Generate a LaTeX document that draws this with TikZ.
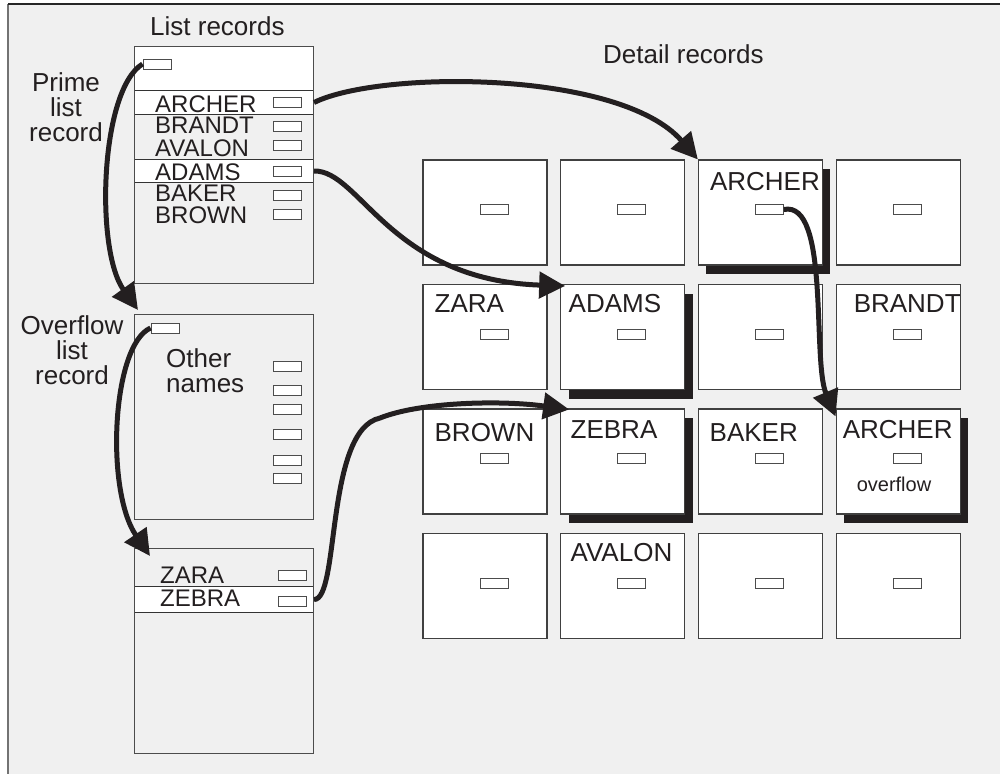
\documentclass[tikz,border=0pt]{standalone}
\usepackage{fontspec}
\setmainfont{Liberation Sans}
\usetikzlibrary{arrows.meta,
                shadows
                }
\definecolor{paper}{HTML}{F0F0F0}
\definecolor{ink}{HTML}{231F20}

\begin{document}
\begin{tikzpicture}[
    x=1pt, y=-1pt,
  lbl/.style = {font=\fontsize{26}{25}\selectfont, text=ink, inner sep=0pt},
 dlbl/.style = {lbl, anchor=base west},
  row/.style = {font=\fontsize{24}{24}\selectfont, text=ink, inner sep=0pt, anchor=base west},
  lst/.style = {draw=black!70, line width=1.3pt, minimum width=179pt, inner sep=0pt, anchor=north west},
 band/.style = {draw=black!80, fill=white, line width=1pt, minimum width=179pt, inner sep=0pt, anchor=north west},
  ptr/.style = {draw=black!70, fill=white, line width=0.9pt, minimum width=28pt, minimum height=10pt, inner sep=0pt},
  rec/.style = {draw=black!75, fill=white, line width=1.1pt, minimum width=124pt, minimum height=105pt, inner sep=0pt},
  hit/.style = {drop shadow={shadow xshift=8pt, shadow yshift=-9pt, fill=ink, opacity=1}},
 link/.style = {draw=ink, line width=5pt, -{Triangle[length=26pt,width=26pt]}},
 box02/.style = {hit}, box11/.style = {hit}, box21/.style = {hit}, box23/.style = {hit}
                    ]
\useasboundingbox (0,0) rectangle (1000,774);
\fill[paper] (8,4) rectangle (1000,774);
\draw[black!55, line width=2pt] (8,4) -- (8,774);
\draw[black!85, line width=1.5pt] (8,4) -- (1000,4);

% prime list record
\node (head) [band, draw=none, minimum height=44pt] at (134,46) {};
\node (bArcher) [band, minimum height=24pt] at (134,90) {};
\node (bAdams) [band, minimum height=23pt] at (134,159) {};
\node (prime) [lst, minimum height=237pt] at (134,46) {};
\node (tList) [lbl, anchor=base west] at (150,35) {List records};
\node (pPrime) [ptr] at (157,64) {};
\foreach \nm/\bl/\py in {ARCHER/112/102, BRANDT/133/126, AVALON/156/145,
                         ADAMS/180/171, BAKER/201/195.5, BROWN/223/214}
  {
\node (t\nm) [row] at (155,\bl) {\nm};
\node (p\nm) [ptr] at (287,\py) {};
  }
\node (lPrime) [lbl, align=center, anchor=north] at (66,72) {Prime\\list\\record};

% overflow list records
\node (over) [lst, minimum height=205pt] at (134,314) {};
\node (pOver) [ptr] at (165,328) {};
\node (lOver) [lbl, align=center, anchor=north] at (72,315) {Overflow\\list\\record};
\node (tOther) [lbl, align=left, anchor=north west] at (166,348) {Other\\names};
\foreach \py [count=\i] in {366, 390, 409, 434, 460, 478}
  \node (pOther\i) [ptr] at (287,\py) {};

\node (bZebra) [band, minimum height=26pt] at (134,586) {};
\node (over2) [lst, minimum height=205pt] at (134,548) {};
\node (tZARA) [row] at (160,583) {ZARA};
\node (tZEBRA) [row] at (160,606) {ZEBRA};
\node (pZARA) [ptr] at (292,575) {};
\node (pZEBRA) [ptr] at (292,601) {};

% detail records
\node (tDetail) [lbl, anchor=base west] at (603,63) {Detail records};
\foreach \r in {0,...,3}
  \foreach \c in {0,...,3}
  {
\node (d\r\c) [rec, box\r\c/.try] at (485+137.7*\c, 212.5+124.5*\r) {};
\node (q\r\c) [ptr] at ([shift={(9,-3)}]d\r\c.center) {};
  }
\node (lA1) [dlbl] at ([shift={(12,31)}]d02.north west) {ARCHER};
\node (lZa) [dlbl] at ([shift={(12,28.5)}]d10.north west) {ZARA};
\node (lAd) [dlbl] at ([shift={(8.3,28.5)}]d11.north west) {ADAMS};
\node (lBr) [dlbl] at ([shift={(18,28.5)}]d13.north west) {BRANDT};
\node (lBo) [dlbl] at ([shift={(12,33)}]d20.north west) {BROWN};
\node (lZe) [dlbl] at ([shift={(10.3,30)}]d21.north west) {ZEBRA};
\node (lBa) [dlbl] at ([shift={(11.6,33)}]d22.north west) {BAKER};
\node (lA2) [dlbl] at ([shift={(7,30)}]d23.north west) {ARCHER};
\node (lOf) [dlbl, font=\fontsize{20}{20}\selectfont] at ([shift={(21,83)}]d23.north west) {overflow};
\node (lAv) [dlbl] at ([shift={(10.3,28.5)}]d31.north west) {AVALON};

% pointers
\draw[link] (pPrime.west) .. controls (100,90) and (95,250) .. ([shift={(4,-4)}]over.north west);
\draw[link] (pOver.west) .. controls (112,345) and (105,490) .. ([shift={(16,8)}]over2.north west);
\draw[link] (bArcher.east) .. controls (380,70) and (620,70) .. (d02.north west);
\draw[link] (bAdams.east) .. controls (360,170) and (390,280) .. ([shift={(5,2)}]d11.north west);
\draw[link] (bZebra.east) .. controls (340,600) and (325,430) .. (380,418)
                          .. controls (420,402) and (500,400) .. ([shift={(9,1)}]d21.north west);
\draw[link] (q02.east) .. controls (830,200) and (812,360) .. ([shift={(0,8)}]d23.north west);
\end{tikzpicture}
\end{document}
